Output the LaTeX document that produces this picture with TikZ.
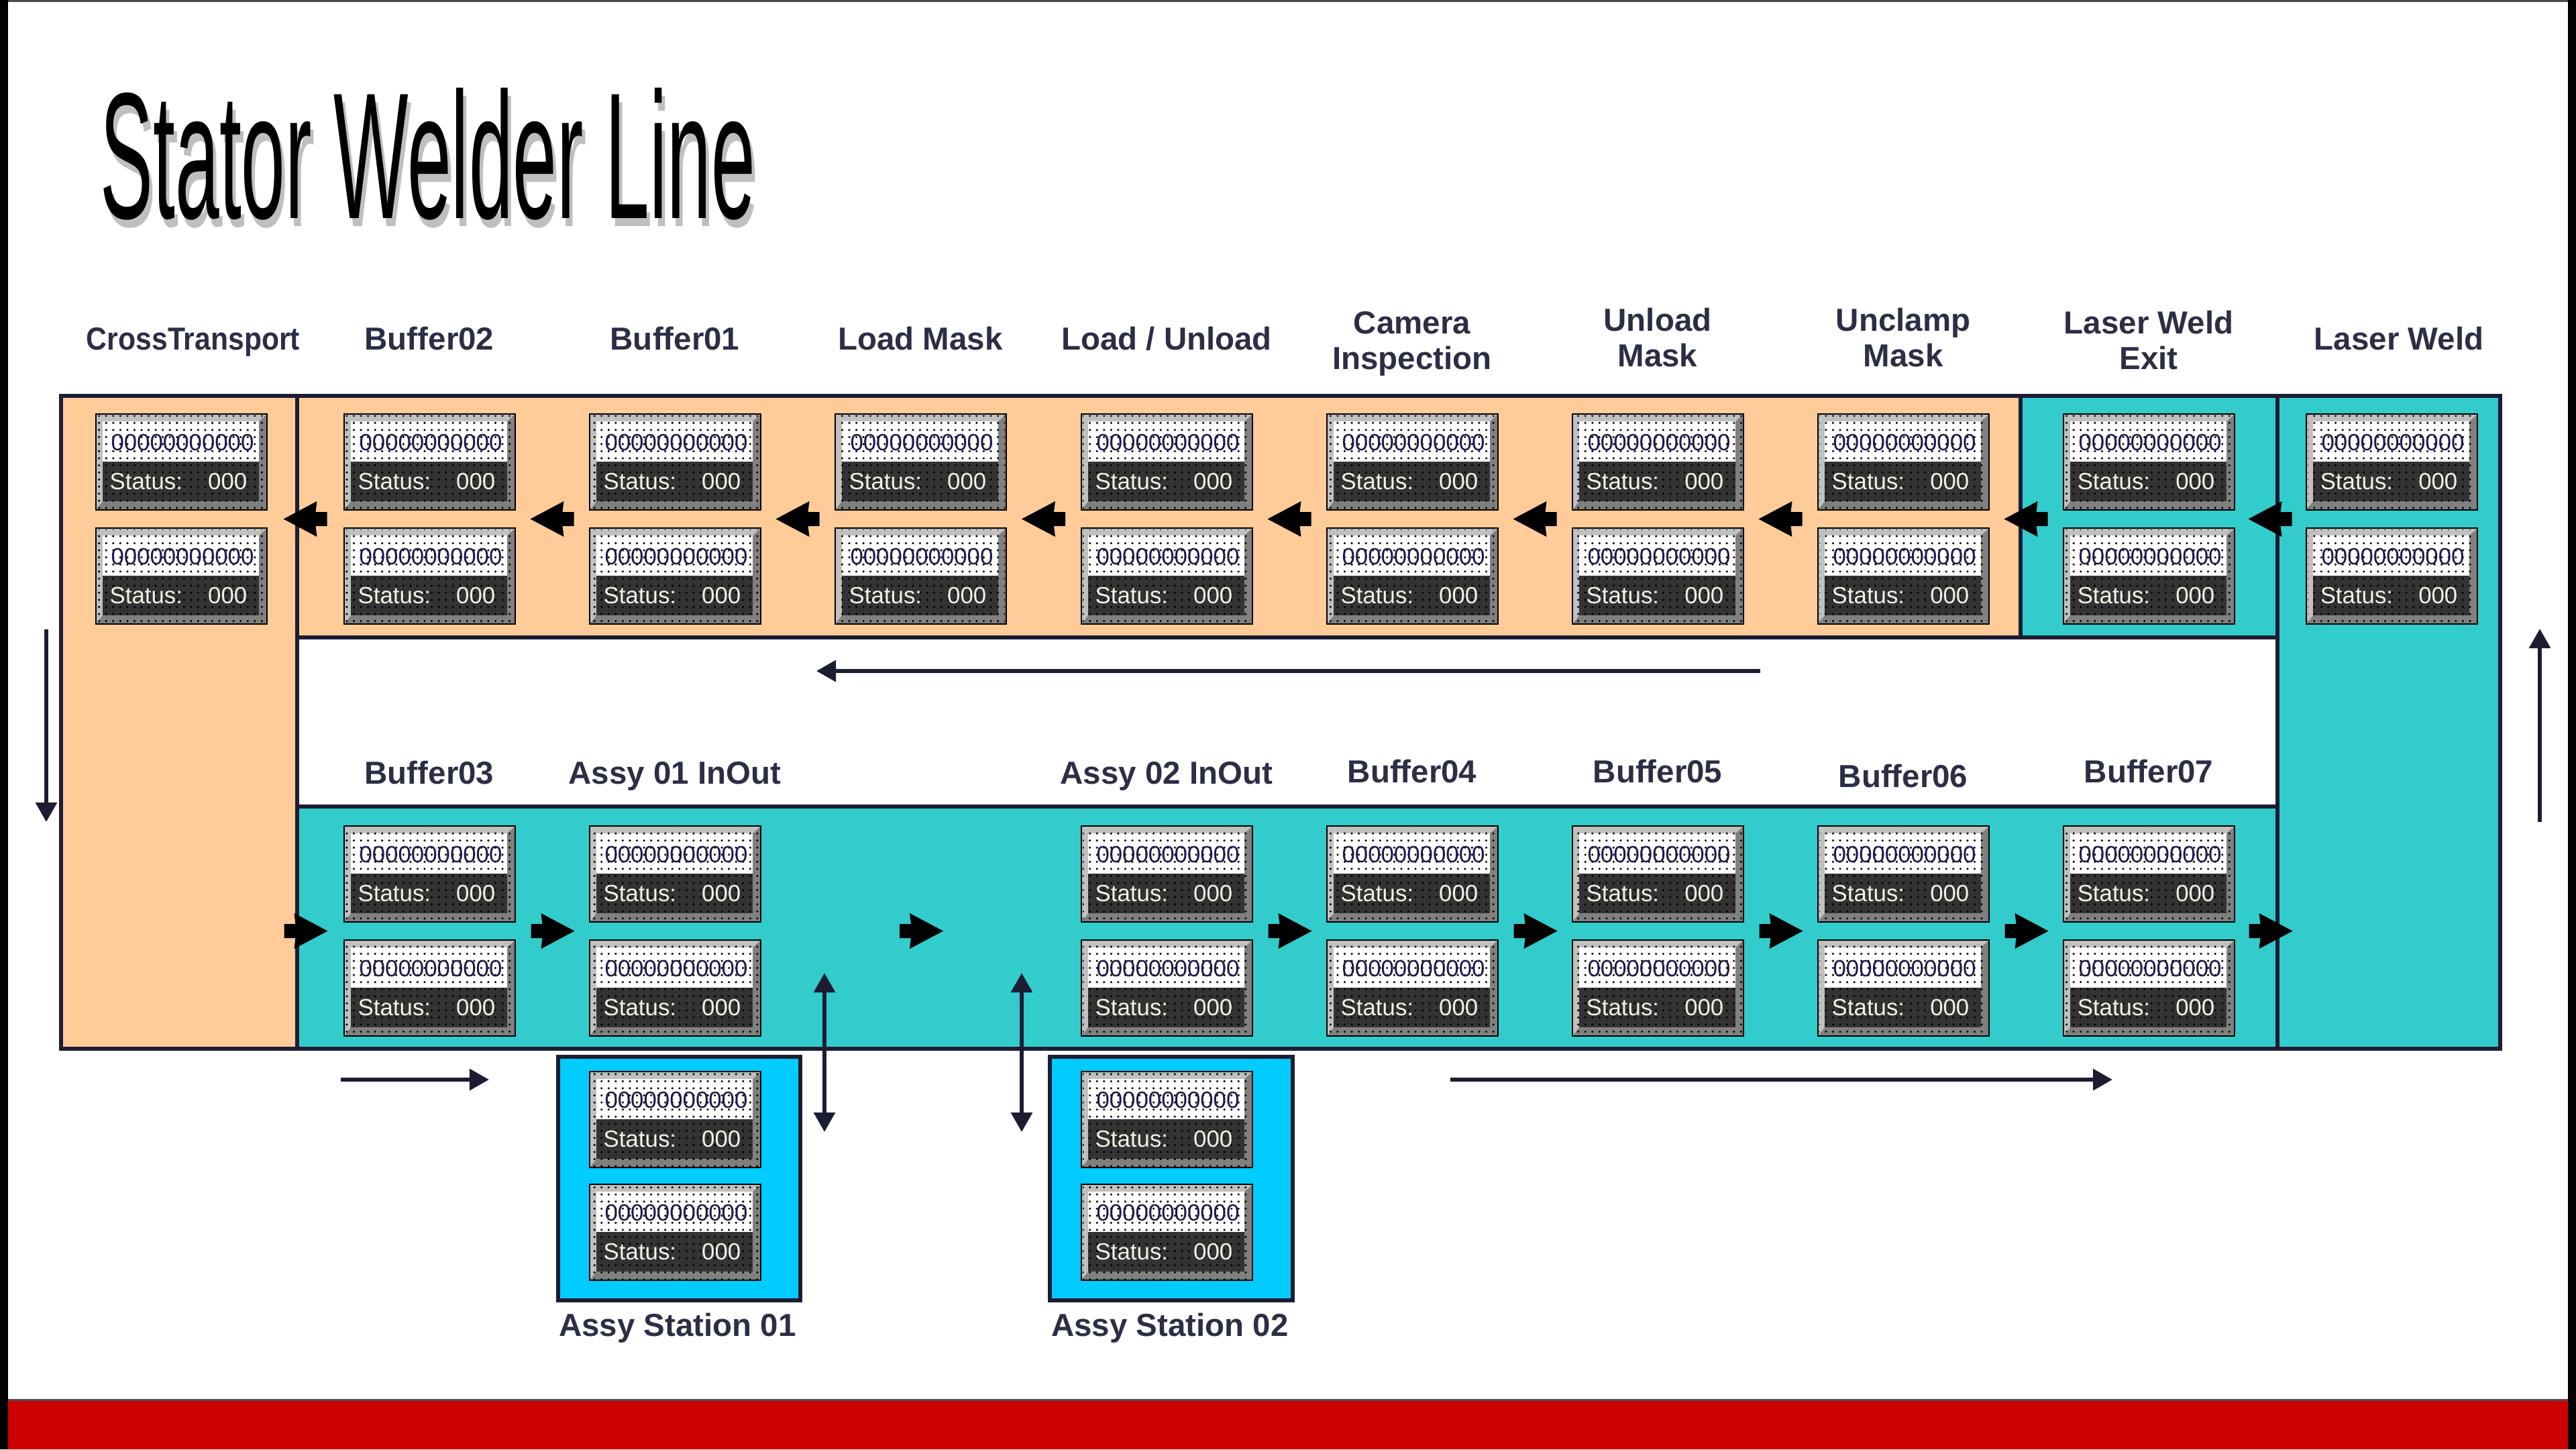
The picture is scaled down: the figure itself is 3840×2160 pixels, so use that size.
\documentclass[tikz,border=0pt]{standalone}
\usepackage{fontspec}
\setmainfont{Liberation Sans}
\usepackage{graphicx}
\usetikzlibrary{arrows.meta,patterns,calc}
\definecolor{peach}{HTML}{FFCC99}
\definecolor{tealband}{HTML}{33CCCC}
\definecolor{assycol}{HTML}{00CCFF}
\definecolor{framecol}{HTML}{1C1C33}
\definecolor{lblcol}{HTML}{2B2E45}
\definecolor{redbar}{HTML}{CC0000}
\definecolor{bevL}{HTML}{C0C0C0}
\definecolor{bevD}{HTML}{808080}
\definecolor{panelcol}{HTML}{333333}
\definecolor{numcol}{HTML}{1A1A4A}
\definecolor{stcol}{HTML}{F4F2E6}
\tikzset{
 region/.style={draw=framecol, line width=0.065cm},
 lab/.style={font=\fontsize{13.5pt}{14.8pt}\selectfont\bfseries, text=lblcol, inner sep=0pt, align=center, anchor=base},
 flow/.style={draw=framecol, line width=0.06cm, -{Triangle[length=0.29cm,width=0.31cm]}},
 flowboth/.style={draw=framecol, line width=0.06cm, {Triangle[length=0.29cm,width=0.31cm]}-{Triangle[length=0.29cm,width=0.31cm]}},
 boxframe/.style={inner sep=0pt, outer sep=0pt, minimum width=2.55cm, minimum height=1.43cm},
 numtxt/.style={font=\fontsize{9.9pt}{11pt}\selectfont, text=numcol, inner sep=0pt},
 sttxt/.style={font=\fontsize{9.9pt}{11pt}\selectfont, text=stcol, inner sep=0pt},
 fatR/.pic={\fill[black] (-32,-10.5) -- (-15,-10.5) -- (-17,-26.5) -- (33,0) -- (-17,26.5) -- (-15,10.5) -- (-32,10.5) -- cycle;},
 fatL/.pic={\fill[black] (32,-10.5) -- (15,-10.5) -- (17,-26.5) -- (-33,0) -- (17,26.5) -- (15,10.5) -- (32,10.5) -- cycle;},
}
\newcommand{\statusbox}[3]{%
 \begin{scope}[shift={(#2,#3)}]
  \fill[bevD] (0,0) rectangle (255,143);
  \fill[bevL] (0,0) -- (255,0) -- (243,11) -- (10,11) -- (10,130) -- (0,143) -- cycle;
  \fill[white] (10,11) rectangle (243,71);
  \fill[panelcol] (10,71) rectangle (243,130);
  \fill[pattern=dots, pattern color=black] (2,2) rectangle (253,141);
  \draw[black, line width=0.025cm] (0,0) rectangle (255,143);
  \node[boxframe] (#1) at (127.5,71.5) {};
  \node[numtxt] (#1n) at (129,42) {00000000000};
  \node[sttxt, anchor=base west] (#1s) at (20,112) {Status:};
  \node[sttxt, anchor=base east] (#1v) at (226,112) {000};
 \end{scope}}
\newcommand{\titletext}{\scalebox{1}[2.27]{Stator Welder Line}}
\begin{document}
\begin{tikzpicture}[x=0.01cm, y=-0.01cm]
\useasboundingbox (0,0) rectangle (3840,2160);
\fill[white] (0,0) rectangle (3840,2160);
% page frame
\fill[black!70] (0,0) rectangle (3840,3);
\fill[black] (0,0) rectangle (12,2160);
\fill[black] (3828,0) rectangle (3840,2160);
\fill[redbar] (12,2087) rectangle (3828,2160);
\draw[black!70, line width=0.03cm] (12,2086) -- (3828,2086);

% title with its drop shadow (one node)
\node[anchor=base west, inner sep=0pt, font=\fontsize{33.6pt}{40pt}\selectfont] (title) at (149,325)
  {\rlap{\raisebox{-0.12cm}{\hspace{0.05cm}\textcolor{black!25}{\titletext}}}\titletext};

% regions
\filldraw[region, fill=peach] (91,590) rectangle (443,1563);
\filldraw[region, fill=peach] (443,590) rectangle (3012,950);
\filldraw[region, fill=tealband] (3012,590) rectangle (3395,950);
\filldraw[region, fill=tealband] (3395,590) rectangle (3727,1563);
\filldraw[region, fill=tealband] (443,1202) rectangle (3395,1563);
\filldraw[region, fill=assycol] (832,1575) rectangle (1193,1938);
\filldraw[region, fill=assycol] (1565,1575) rectangle (1927,1938);

% top row boxes
\statusbox{t0a}{143}{617}  \statusbox{t0b}{143}{787}
\statusbox{t1a}{513}{617}  \statusbox{t1b}{513}{787}
\statusbox{t2a}{879}{617}  \statusbox{t2b}{879}{787}
\statusbox{t3a}{1245}{617} \statusbox{t3b}{1245}{787}
\statusbox{t4a}{1612}{617} \statusbox{t4b}{1612}{787}
\statusbox{t5a}{1978}{617} \statusbox{t5b}{1978}{787}
\statusbox{t6a}{2344}{617} \statusbox{t6b}{2344}{787}
\statusbox{t7a}{2710}{617} \statusbox{t7b}{2710}{787}
\statusbox{t8a}{3076}{617} \statusbox{t8b}{3076}{787}
\statusbox{t9a}{3438}{617} \statusbox{t9b}{3438}{787}
% bottom row boxes
\statusbox{b1a}{513}{1231}  \statusbox{b1b}{513}{1401}
\statusbox{b2a}{879}{1231}  \statusbox{b2b}{879}{1401}
\statusbox{b4a}{1612}{1231} \statusbox{b4b}{1612}{1401}
\statusbox{b5a}{1978}{1231} \statusbox{b5b}{1978}{1401}
\statusbox{b6a}{2344}{1231} \statusbox{b6b}{2344}{1401}
\statusbox{b7a}{2710}{1231} \statusbox{b7b}{2710}{1401}
\statusbox{b8a}{3076}{1231} \statusbox{b8b}{3076}{1401}
% assy stations
\statusbox{a1a}{879}{1597}  \statusbox{a1b}{879}{1765}
\statusbox{a2a}{1612}{1597} \statusbox{a2b}{1612}{1765}

% fat flow arrows, top (leftwards)
\pic at ($(t0a.south east)!0.5!(t1b.north west)$) {fatL};
\pic at ($(t1a.south east)!0.5!(t2b.north west)$) {fatL};
\pic at ($(t2a.south east)!0.5!(t3b.north west)$) {fatL};
\pic at ($(t3a.south east)!0.5!(t4b.north west)$) {fatL};
\pic at ($(t4a.south east)!0.5!(t5b.north west)$) {fatL};
\pic at ($(t5a.south east)!0.5!(t6b.north west)$) {fatL};
\pic at ($(t6a.south east)!0.5!(t7b.north west)$) {fatL};
\pic at ($(t7a.south east)!0.5!(t8b.north west)$) {fatL};
\pic at ($(t8a.south east)!0.5!(t9b.north west)$) {fatL};
% fat flow arrows, bottom (rightwards)
\pic at ($(t0a.south east |- b1a.south east)!0.5!(b1b.north west)$) {fatR};
\pic at ($(b1a.south east)!0.5!(b2b.north west)$) {fatR};
\pic at ($(b2a.south east)!0.5!(b4b.north west)$) {fatR};
\pic at ($(b4a.south east)!0.5!(b5b.north west)$) {fatR};
\pic at ($(b5a.south east)!0.5!(b6b.north west)$) {fatR};
\pic at ($(b6a.south east)!0.5!(b7b.north west)$) {fatR};
\pic at ($(b7a.south east)!0.5!(b8b.north west)$) {fatR};
\pic at ($(b8a.south east)!0.5!(t9b.north west |- b8b.north west)$) {fatR};

% labels, top (multi-line labels: base = last line)
\node[lab] (lCT) at (288,521) {\scalebox{0.9}[1]{CrossTransport}};
\node[lab] (lB02) at (640,521) {Buffer02};
\node[lab] (lB01) at (1006,521) {Buffer01};
\node[lab] (lLM) at (1372,521) {Load Mask};
\node[lab] (lLU) at (1739,521) {Load / Unload};
\node[lab] (lCI) at (2105,550) {Camera\\Inspection};
\node[lab] (lUM) at (2471,546) {Unload\\Mask};
\node[lab] (lUC) at (2837,546) {Unclamp\\Mask};
\node[lab] (lLWE) at (3203,550) {Laser Weld\\Exit};
\node[lab] (lLW) at (3576,521) {Laser Weld};
% labels, bottom
\node[lab] (lB03) at (640,1168) {Buffer03};
\node[lab] (lA1) at (1006,1168) {Assy 01 InOut};
\node[lab] (lA2) at (1739,1168) {Assy 02 InOut};
\node[lab] (lB04) at (2105,1166) {Buffer04};
\node[lab] (lB05) at (2471,1166) {Buffer05};
\node[lab] (lB06) at (2837,1173) {Buffer06};
\node[lab] (lB07) at (3203,1166) {Buffer07};
\node[lab] (lS1) at (1010,1991) {Assy Station 01};
\node[lab] (lS2) at (1744,1991) {Assy Station 02};

% thin flow arrows
\coordinate (mS) at (2624,1000); \coordinate (mE) at (1217,1000);
\draw[flow] (mS) -- (mE);
\coordinate (lS) at (69,938); \coordinate (lE) at (69,1225);
\draw[flow] (lS) -- (lE);
\coordinate (rS) at (3786,1225); \coordinate (rE) at (3786,937);
\draw[flow] (rS) -- (rE);
\coordinate (bS) at (508,1609); \coordinate (bE) at (729,1609);
\draw[flow] (bS) -- (bE);
\coordinate (cS) at (2162,1609); \coordinate (cE) at (3149,1609);
\draw[flow] (cS) -- (cE);
\coordinate (d1a) at (1229,1450); \coordinate (d1b) at (1229,1687);
\draw[flowboth] (d1a) -- (d1b);
\coordinate (d2a) at (1523,1450); \coordinate (d2b) at (1523,1687);
\draw[flowboth] (d2a) -- (d2b);
\end{tikzpicture}
\end{document}
